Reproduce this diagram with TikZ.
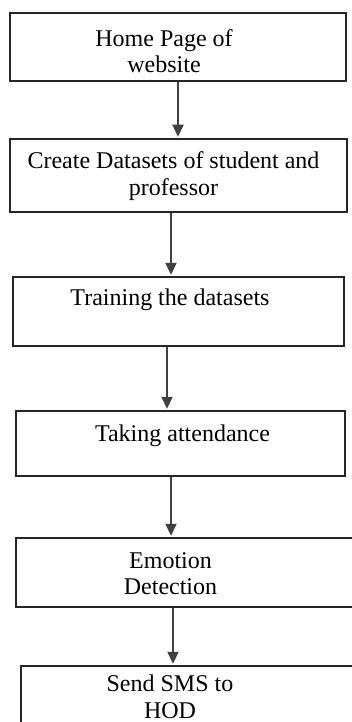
\documentclass[tikz,border=0pt]{standalone}
\usepackage{fontspec}
\setmainfont{Liberation Serif}
\usetikzlibrary{positioning,arrows.meta}

\begin{document}
\begin{tikzpicture}[
    x=1pt,
    y=-1pt,
    font=\fontsize{24}{26.5}\selectfont,
    stepbox/.style={
        draw=black!85,
        rectangle,
        line width=1.5pt,
        inner sep=0pt
    },
    steptext/.style={
        anchor=base,
        align=center,
        inner sep=0pt
    },
    flow/.style={
        draw=black!75,
        line width=2.2pt,
        shorten >=1.5pt,
        -{Triangle[length=12pt,width=11pt]}
    }
]
    \useasboundingbox (0,0) rectangle (351,722);

    % boxes
    \node[stepbox,minimum width=336pt,minimum height=68pt] (b1) at (178,47) {};
    \node[stepbox,minimum width=337pt,minimum height=73pt] (b2) at (178.5,175.5) {};
    \node[stepbox,minimum width=331pt,minimum height=69pt] (b3) at (178.5,311.5) {};
    \node[stepbox,minimum width=329pt,minimum height=65pt] (b4) at (180.5,443.5) {};
    \node[stepbox,minimum width=344pt,minimum height=69pt] (b5) at (188,572.5) {};
    \node[stepbox,minimum width=339pt,minimum height=74pt] (b6) at (190.5,703) {};

    % texts (base = last line)
    \node[steptext] (t1) at (164,73) {Home Page of\\website};
    \node[steptext] (t2) at (173.5,195) {Create Datasets of student and\\professor};
    \node[steptext] (t3) at (170,305) {Training the datasets};
    \node[steptext] (t4) at (182.5,441.7) {Taking attendance};
    \node[steptext] (t5) at (170.5,594.5) {Emotion\\Detection};
    \node[steptext] (t6) at (170,718) {Send SMS to\\HOD};

    % arrows
    \draw[flow] (b1.south) -- (b1.south |- b2.north);
    \draw[flow] ([xshift=-7.5pt]b2.south) -- ([xshift=-7.5pt]b2.south |- b3.north);
    \draw[flow] ([xshift=-11.5pt]b3.south) -- ([xshift=-11.5pt]b3.south |- b4.north);
    \draw[flow] ([xshift=-9.5pt]b4.south) -- ([xshift=-9.5pt]b4.south |- b5.north);
    \draw[flow] ([xshift=-15pt]b5.south) -- ([xshift=-15pt]b5.south |- b6.north);
\end{tikzpicture}
\end{document}
